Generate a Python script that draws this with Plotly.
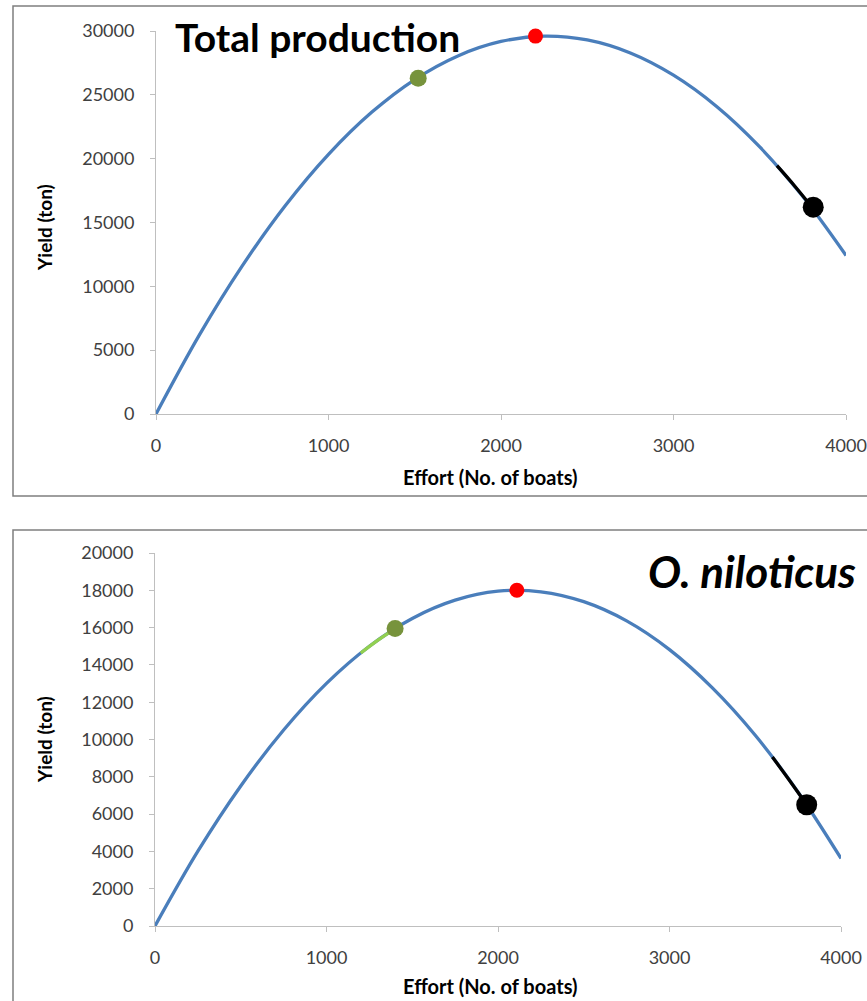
import plotly.graph_objects as go

# ---- data ----
effort = [0, 250, 500, 750, 1000, 1250, 1500, 1750, 2000, 2250, 2500, 2750, 3000, 3250, 3500, 3750, 4000]

total_yield = [0, 6160, 11600, 16330, 20340, 23630, 26200, 28050, 29180, 29600, 29300, 28280, 26540, 24090, 20920, 17030, 12420]
total_black_x = [3600, 3700, 3800]
total_black_y = [19450, 17900, 16250]
total_pts_x = [1520, 2200, 3810]
total_pts_y = [26300, 29600, 16200]

nil_yield = [0, 4010, 7510, 10510, 13010, 15000, 16490, 17470, 17950, 17920, 17390, 16360, 14820, 12770, 10230, 7170, 3620]
nil_green_x = [1200, 1300, 1400]
nil_green_y = [14640, 15330, 15950]
nil_black_x = [3600, 3700, 3800]
nil_black_y = [9060, 7800, 6500]
nil_pts_x = [1400, 2110, 3800]
nil_pts_y = [15950, 18000, 6500]

pt_colors = ["#77933C", "#FF0000", "#000000"]
pt_sizes = [17, 15, 21]

top_yticks = [0, 5000, 10000, 15000, 20000, 25000, 30000]
bot_yticks = [0, 2000, 4000, 6000, 8000, 10000, 12000, 14000, 16000, 18000, 20000]
xticks = [0, 1000, 2000, 3000, 4000]

BLUE = "#4A7EBB"
W, H = 867, 1001
FONT = "Lato, Open Sans, sans-serif"

fig = go.Figure()

def add_panel(xa, ya, ycurve, segs, px, py):
    fig.add_trace(go.Scatter(x=effort, y=ycurve, mode="lines", line=dict(color=BLUE, width=3.3, shape="spline"),
                             xaxis=xa, yaxis=ya, showlegend=False, hoverinfo="skip"))
    for sx, sy, c in segs:
        fig.add_trace(go.Scatter(x=sx, y=sy, mode="lines", line=dict(color=c, width=3.3, shape="spline"),
                                 xaxis=xa, yaxis=ya, showlegend=False))
    fig.add_trace(go.Scatter(x=px, y=py, mode="markers",
                             marker=dict(color=pt_colors, size=pt_sizes, opacity=1, line=dict(width=0)),
                             xaxis=xa, yaxis=ya, showlegend=False, cliponaxis=False))

add_panel("x", "y", total_yield, [(total_black_x, total_black_y, "#000000")], total_pts_x, total_pts_y)
add_panel("x2", "y2", nil_yield, [(nil_green_x, nil_green_y, "#92D050"), (nil_black_x, nil_black_y, "#000000")],
          nil_pts_x, nil_pts_y)

def px_x(p):
    return p / W

def px_y(p):
    return 1 - p / H

axis_common = dict(showgrid=False, zeroline=False, showline=True, linecolor="#BFBFBF", linewidth=1,
                   ticks="outside", ticklen=5, tickcolor="#BFBFBF", automargin=False,
                   tickformat="d",
                   tickfont=dict(family=FONT, size=18, color="#404040"))

fig.update_layout(
    template="none",
    width=W, height=H, margin=dict(l=0, r=0, t=0, b=0, autoexpand=False),
    paper_bgcolor="white", plot_bgcolor="white",
    xaxis=dict(domain=[px_x(156), px_x(846)], range=[0, 4000], tickvals=xticks, anchor="y",
               ticklabelstandoff=10, **axis_common),
    yaxis=dict(domain=[px_y(414), px_y(31)], range=[0, 30000], tickvals=top_yticks, anchor="x",
               ticklabelstandoff=12, **axis_common),
    xaxis2=dict(domain=[px_x(155), px_x(841)], range=[0, 4000], tickvals=xticks, anchor="y2",
                ticklabelstandoff=10, **axis_common),
    yaxis2=dict(domain=[px_y(926), px_y(553)], range=[0, 20000], tickvals=bot_yticks, anchor="x2",
                ticklabelstandoff=12, **axis_common),
)

# panel borders
fig.add_shape(type="rect", xref="paper", yref="paper", x0=px_x(13), x1=1.01, y0=px_y(496), y1=px_y(6),
              line=dict(color="#7F7F7F", width=1.5), layer="below")
fig.add_shape(type="rect", xref="paper", yref="paper", x0=px_x(13), x1=1.01, y0=-0.01, y1=px_y(530),
              line=dict(color="#7F7F7F", width=1.5), layer="below")

title_font = dict(family=FONT, size=20, color="#000000")
anns = [
    dict(text="<b>Total production</b>", x=px_x(173), y=px_y(37), xanchor="left", yanchor="middle",
         font=dict(family=FONT, size=39, color="#000000")),
    dict(text="<b><i>O. niloticus</i></b>", x=px_x(858), y=px_y(571), xanchor="right", yanchor="middle",
         font=dict(family=FONT, size=44, color="#000000")),
    dict(text="<b>Effort (No. of boats)</b>", x=px_x(490), y=px_y(477), xanchor="center", yanchor="middle",
         font=title_font),
    dict(text="<b>Effort (No. of boats)</b>", x=px_x(490), y=px_y(986), xanchor="center", yanchor="middle",
         font=title_font),
    dict(text="<b>Yield (ton)</b>", x=px_x(44), y=px_y(228), xanchor="center", yanchor="middle",
         textangle=-90, font=dict(family=FONT, size=19, color="#000000")),
    dict(text="<b>Yield (ton)</b>", x=px_x(44), y=px_y(740), xanchor="center", yanchor="middle",
         textangle=-90, font=dict(family=FONT, size=19, color="#000000")),
]
for a in anns:
    fig.add_annotation(xref="paper", yref="paper", showarrow=False, **a)

fig.write_html("out.html")
